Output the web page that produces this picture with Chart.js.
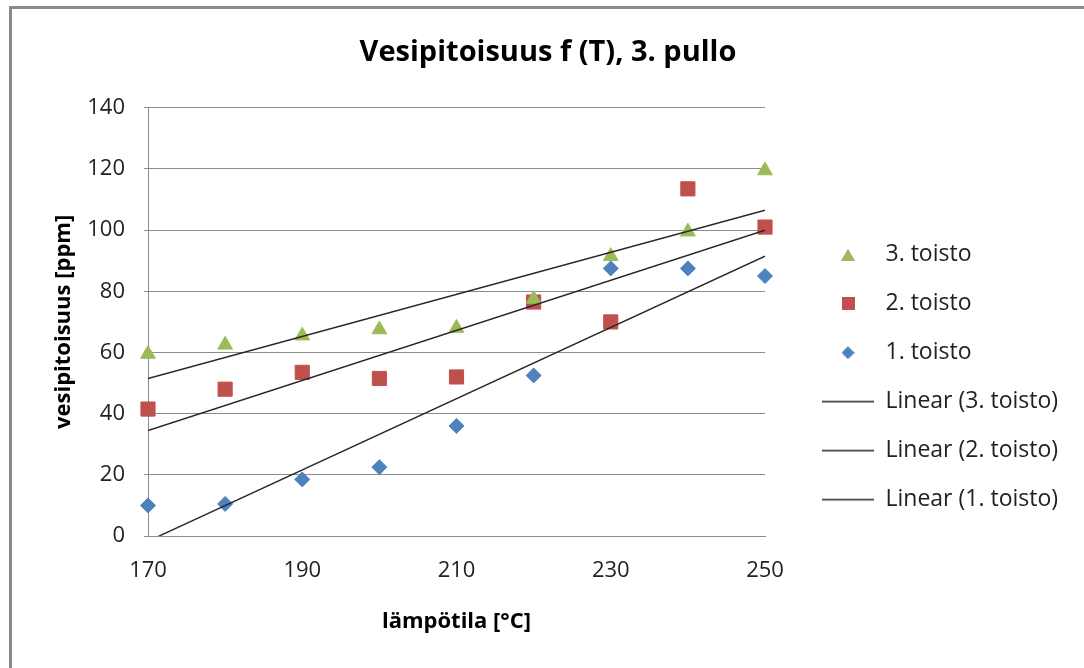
<!DOCTYPE html>
<html>
<head>
<meta charset="utf-8">
<title>Vesipitoisuus f (T), 3. pullo</title>
<script src="https://cdn.jsdelivr.net/npm/chart.js@4/dist/chart.umd.min.js"></script>
<style>
    html, body { margin: 0; padding: 0; background: #fff; overflow: hidden; }
    #wrap { position: relative; width: 1084px; height: 668px; }
    #frame {
        position: absolute; left: 9px; top: 6px; width: 1200px; height: 800px;
        border-left: 3px solid #8a8a8a; border-top: 3px solid #8a8a8a;
    }
    #chart { position: absolute; left: 0; top: 0; }
</style>
</head>
<body>
<div id="wrap">
    <div id="frame"></div>
    <canvas id="chart" width="1084" height="668"></canvas>
</div>
<script>
'use strict';

// measurements: temperature (°C) and water content (ppm) for each repeat
const temps = [170, 180, 190, 200, 210, 220, 230, 240, 250];
const toisto1 = [10, 10.5, 18.5, 22.5, 36, 52.5, 87.5, 87.5, 85];
const toisto2 = [41.5, 48, 53.5, 51.5, 52, 76.5, 70, 113.5, 101];
const toisto3 = [59.5, 62.5, 65.5, 67.5, 68, 77.5, 91.5, 99.5, 119.5];

// linear trend lines, value at each end of the temperature range
const trendX = [170, 250];
const trend1 = [-1.7, 91.5];
const trend2 = [34.5, 100];
const trend3 = [51.5, 106.5];

const yTicks = [0, 140, 20];   // min, max, step
const xTicks = [170, 250, 20];

const blue = '#4f81bd';
const red = '#c0504d';
const green = '#9bbb59';
const trendColor = '#262626';
const gridColor = '#8c8c8c';
const fontName = '"Open Sans", sans-serif';

function toPoints(xs, ys) {
    const pts = [];
    for (let i = 0; i < xs.length; i++) {
        pts.push({x: xs[i], y: ys[i]});
    }
    return pts;
}

function markerSet(label, values, style, radius, color) {
    return {
        label: label,
        data: toPoints(temps, values),
        pointStyle: style,
        pointRadius: radius,
        pointHoverRadius: radius,
        backgroundColor: color,
        borderColor: color,
        borderWidth: 1,
        showLine: false,
        clip: false,
        order: 1
    };
}

function trendSet(label, values) {
    return {
        type: 'line',
        label: label,
        data: toPoints(trendX, values),
        borderColor: trendColor,
        backgroundColor: trendColor,
        borderWidth: 1.4,
        pointRadius: 0,
        pointStyle: 'line',
        fill: false,
        order: 0
    };
}

const datasets = [
    markerSet('3. toisto', toisto3, 'triangle', 8.5, green),
    markerSet('2. toisto', toisto2, 'rect', 10, red),
    markerSet('1. toisto', toisto1, 'rectRot', 7.5, blue),
    trendSet('Linear (3. toisto)', trend3),
    trendSet('Linear (2. toisto)', trend2),
    trendSet('Linear (1. toisto)', trend1)
];

// small legend glyphs, so markers keep their shape next to the long line samples
function glyph(w, h, paint) {
    const c = document.createElement('canvas');
    c.width = w;
    c.height = h;
    const g = c.getContext('2d');
    paint(g, w, h);
    return c;
}

const legendGlyphs = {
    triangle: glyph(14, 12, function (g, w, h) {
        g.fillStyle = green;
        g.beginPath();
        g.moveTo(w / 2, 0);
        g.lineTo(w, h);
        g.lineTo(0, h);
        g.closePath();
        g.fill();
    }),
    rect: glyph(13, 13, function (g, w, h) {
        g.fillStyle = red;
        g.fillRect(0, 0, w, h);
    }),
    rectRot: glyph(13, 13, function (g, w, h) {
        g.fillStyle = blue;
        g.beginPath();
        g.moveTo(w / 2, 0);
        g.lineTo(w, h / 2);
        g.lineTo(w / 2, h);
        g.lineTo(0, h / 2);
        g.closePath();
        g.fill();
    }),
    line: glyph(52, 3, function (g, w) {
        g.strokeStyle = trendColor;
        g.lineWidth = 1.4;
        g.beginPath();
        g.moveTo(0, 1.5);
        g.lineTo(w, 1.5);
        g.stroke();
    })
};

function legendLabels(chart) {
    const items = Chart.defaults.plugins.legend.labels.generateLabels(chart);
    items.forEach(function (item) {
        const style = chart.data.datasets[item.datasetIndex].pointStyle;
        item.pointStyle = legendGlyphs[style];
    });
    items.sort(function (a, b) { return a.datasetIndex - b.datasetIndex; });
    return items;
}

const ctx = document.getElementById('chart').getContext('2d');
const chart = new Chart(ctx, {
    type: 'scatter',
    data: {datasets: datasets},
    options: {
        responsive: false,
        animation: false,
        events: [],
        layout: {padding: {left: 35, right: 23, top: 0, bottom: 0}},
        plugins: {
            title: {
                display: true,
                text: 'Vesipitoisuus f (T), 3. pullo',
                color: '#000',
                font: {family: fontName, size: 29, weight: 'bold'},
                padding: {top: 35, bottom: 38}
            },
            legend: {
                position: 'right',
                maxWidth: 265,
                title: {display: true, text: '', font: {size: 12}, padding: {top: 72, bottom: 0}},
                labels: {
                    usePointStyle: true,
                    pointStyleWidth: 52,
                    padding: 26,
                    color: '#222',
                    font: {family: fontName, size: 23},
                    generateLabels: legendLabels
                }
            },
            tooltip: {enabled: false}
        },
        scales: {
            x: {
                type: 'linear',
                position: 'bottom',
                min: xTicks[0],
                max: xTicks[1],
                grid: {display: false, drawTicks: false},
                border: {display: true, color: gridColor},
                ticks: {
                    stepSize: xTicks[2],
                    padding: 22,
                    color: '#222',
                    font: {family: fontName, size: 22}
                },
                title: {
                    display: true,
                    text: 'lämpötila [°C]',
                    color: '#000',
                    font: {family: fontName, size: 22, weight: 'bold'},
                    padding: {top: 0, bottom: 33}
                },
                afterFit: function (scale) { scale.height = 132; }
            },
            y: {
                type: 'linear',
                position: 'left',
                min: yTicks[0],
                max: yTicks[1],
                grid: {color: gridColor, tickLength: 4, drawTicks: true},
                border: {display: true, color: gridColor},
                ticks: {
                    stepSize: yTicks[2],
                    padding: 19,
                    color: '#222',
                    font: {family: fontName, size: 22}
                },
                title: {
                    display: true,
                    text: 'vesipitoisuus [ppm]',
                    color: '#000',
                    font: {family: fontName, size: 22, weight: 'bold'},
                    padding: {top: 16, bottom: 0}
                },
                afterFit: function (scale) { scale.width = 113; }
            },
            // empty column between the plot and the legend
            gap: {
                type: 'linear',
                position: 'right',
                display: true,
                grid: {display: false, drawTicks: false},
                border: {display: false},
                ticks: {display: false},
                afterFit: function (scale) { scale.width = 31; }
            }
        }
    }
});
</script>
</body>
</html>
